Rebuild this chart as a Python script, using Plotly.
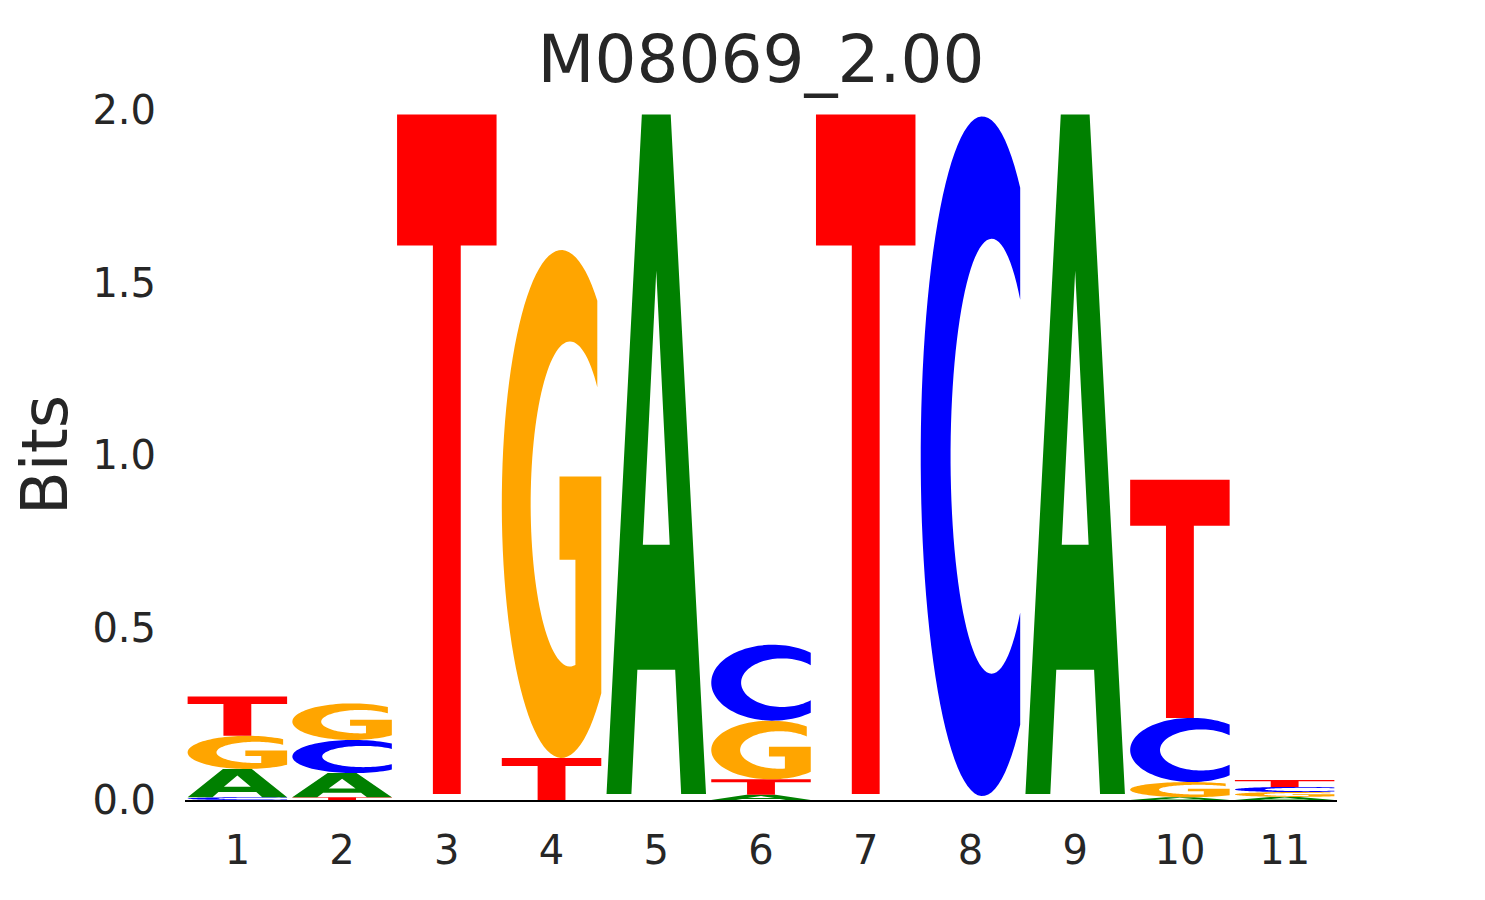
import numpy as np
import plotly.graph_objects as go

# sequence logo data: information (bits) carried by each base at each position
positions = list(range(1, 12))
bases = ['A', 'C', 'G', 'T']
bits_A = [0.082, 0.070, 0.0057, 0.000, 1.970, 0.015, 0.0057, 0.000, 1.970, 0.008, 0.009]
bits_C = [0.008, 0.096, 0.0057, 0.000, 0.0057, 0.220, 0.0057, 1.970, 0.0057, 0.186, 0.015]
bits_G = [0.096, 0.106, 0.0057, 1.472, 0.0057, 0.170, 0.0057, 0.0057, 0.0057, 0.044, 0.014]
bits_T = [0.114, 0.008, 1.970, 0.122, 0.0057, 0.045, 1.970, 0.0057, 0.0057, 0.690, 0.020]
y_ticks = [0.0, 0.5, 1.0, 1.5, 2.0]
y_ticktext = ['0.0', '0.5', '1.0', '1.5', '2.0']

colors = {'A': '#008000', 'C': '#0000ff', 'G': '#ffa500', 'T': '#ff0000'}
LETTER_WIDTH = 0.95
MIN_DRAWN = 0.007  # glyphs thinner than this don't show up


def arc(cx, cy, rx, ry, a0, a1, n=80):
    t = np.radians(np.linspace(a0, a1, n))
    return list(zip(cx + rx * np.cos(t), cy + ry * np.sin(t)))


def cut_angle(cx, rx, x):
    return np.degrees(np.arccos((x - cx) / rx))


# glyph outlines in a unit box (x across, y up)
def glyph_paths(letter):
    if letter == 'T':
        return [[(0, 1), (1, 1), (1, 0.807), (0.64, 0.807), (0.64, 0),
                 (0.36, 0), (0.36, 0.807), (0, 0.807)]]
    if letter == 'A':
        outer = [(0, 0), (0.25, 0), (0.31, 0.183), (0.69, 0.183), (0.75, 0),
                 (1, 0), (0.645, 1), (0.355, 1)]
        hole = [(0.365, 0.367), (0.635, 0.367), (0.5, 0.77)]
        return [outer, hole]
    if letter == 'C':
        ocx, orx = 0.62, 0.62
        icx, irx, iry = 0.713, 0.413, 0.32
        ao = cut_angle(ocx, orx, 1.0)
        ai = cut_angle(icx, irx, 1.0)
        pts = arc(ocx, 0.5, orx, 0.5, ao, 360 - ao) + arc(icx, 0.5, irx, iry, 360 - ai, ai)
        return [pts]
    if letter == 'G':
        ocx, orx = 0.6, 0.6
        icx, irx, iry = 0.685, 0.395, 0.32
        a_top = cut_angle(ocx, orx, 0.96)
        a_low = cut_angle(ocx, orx, 1.0)
        i_low = cut_angle(icx, irx, 0.74)
        i_top = cut_angle(icx, irx, 0.96)
        pts = arc(ocx, 0.5, orx, 0.5, a_top, 360 - a_low)
        pts += [(1, 0.554), (0.58, 0.554), (0.58, 0.39), (0.74, 0.39)]
        pts += arc(icx, 0.5, irx, iry, 360 - i_low, i_top)
        return [pts]


def to_svg(loops, x0, y0, h):
    parts = []
    for loop in loops:
        coords = ['{:.5f},{:.5f}'.format(x0 + gx * LETTER_WIDTH, y0 + gy * h) for gx, gy in loop]
        parts.append('M ' + ' L '.join(coords) + ' Z')
    return ' '.join(parts)


bits = {'A': bits_A, 'C': bits_C, 'G': bits_G, 'T': bits_T}

fig = go.Figure()
# invisible trace so the axes are set up
fig.add_trace(go.Scatter(x=positions, y=[0] * len(positions), mode='markers',
                         marker=dict(opacity=0), hoverinfo='skip', showlegend=False))

shapes = []
for i, pos in enumerate(positions):
    # smallest letters at the bottom of each stack
    stack = sorted(bases, key=lambda b: bits[b][i])
    bottom = 0.0
    for b in stack:
        h = bits[b][i]
        if h >= MIN_DRAWN:
            shapes.append(dict(type='path', xref='x', yref='y',
                               path=to_svg(glyph_paths(b), pos - LETTER_WIDTH / 2, bottom, h),
                               fillcolor=colors[b], fillrule='evenodd',
                               line=dict(width=0), layer='above'))
        bottom += h

# page body adds an 8px offset, margins compensate for it
fig.update_layout(
    width=1485, height=900,
    shapes=shapes,
    title=dict(text='M08069_2.00', x=0.5, xref='paper', y=0.944, yanchor='middle',
               font=dict(size=66, color='#262626')),
    font=dict(family='DejaVu Sans', color='#262626'),
    margin=dict(l=177, r=156, t=102, b=108),
    plot_bgcolor='white', paper_bgcolor='white',
    xaxis=dict(range=[0.5, 11.5], tickvals=positions, showgrid=False, zeroline=False,
               showline=True, linecolor='black', linewidth=1.5, ticks='',
               tickfont=dict(size=40), ticklabelstandoff=14),
    yaxis=dict(range=[0, 2], tickvals=y_ticks, ticktext=y_ticktext, showgrid=False,
               zeroline=False, showline=False, ticks='', tickfont=dict(size=40),
               ticklabelstandoff=28,
               title=dict(text='Bits', font=dict(size=64), standoff=22)),
)

fig.write_html("out.html")
